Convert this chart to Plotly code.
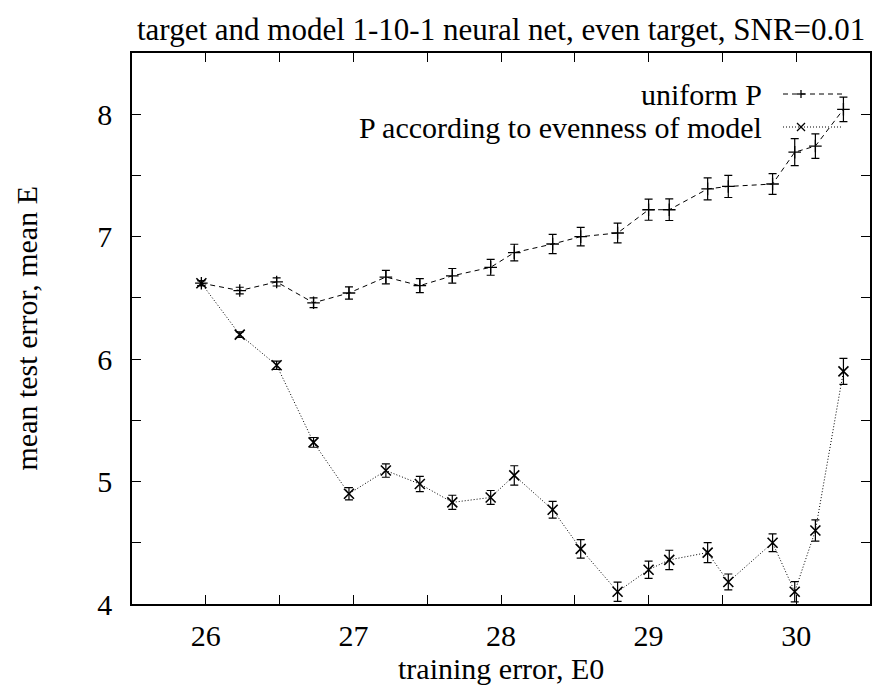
import plotly.graph_objects as go

# ---- data ----
x_vals = [25.97, 26.23, 26.48, 26.73, 26.97, 27.22, 27.45, 27.67, 27.93, 28.09,
          28.35, 28.54, 28.79, 29.00, 29.14, 29.40, 29.54, 29.84, 29.99, 30.13, 30.32]

uniform_y = [6.62, 6.56, 6.63, 6.46, 6.54, 6.67, 6.60, 6.68, 6.75, 6.87,
             6.94, 7.00, 7.03, 7.22, 7.22, 7.39, 7.41, 7.43, 7.69, 7.74, 8.04]
uniform_err = [0.02, 0.027, 0.033, 0.04, 0.05, 0.055, 0.057, 0.06, 0.065, 0.068,
               0.078, 0.076, 0.08, 0.086, 0.088, 0.09, 0.09, 0.085, 0.11, 0.10, 0.10]

even_y = [6.62, 6.20, 5.95, 5.32, 4.90, 5.09, 4.98, 4.83, 4.87, 5.05,
          4.77, 4.45, 4.10, 4.28, 4.36, 4.42, 4.18, 4.50, 4.10, 4.60, 5.90]
even_err = [0.02, 0.022, 0.034, 0.04, 0.05, 0.055, 0.063, 0.058, 0.057, 0.079,
            0.068, 0.076, 0.079, 0.07, 0.079, 0.082, 0.065, 0.072, 0.082, 0.087, 0.106]

x_tickvals = [25.5, 26, 26.5, 27, 27.5, 28, 28.5, 29, 29.5, 30, 30.5]
x_ticktext = ["", "26", "", "27", "", "28", "", "29", "", "30", ""]
y_tickvals = [4, 4.5, 5, 5.5, 6, 6.5, 7, 7.5, 8, 8.5]
y_ticktext = ["4", "", "5", "", "6", "", "7", "", "8", ""]

series_names = ["uniform P", "P according to evenness of model"]
title_text = "target and model 1-10-1 neural net, even target, SNR=0.01"
x_title = "training error, E0"
y_title = "mean test error, mean E"

FONT = "Liberation Serif"
FS = 30

fig = go.Figure()
fig.add_trace(go.Scatter(
    x=x_vals, y=uniform_y, mode="lines+markers", name=series_names[0],
    line=dict(color="black", width=1, dash="5px,4px"),
    marker=dict(symbol="cross-thin-open", size=9, color="black",
                line=dict(color="black", width=1.3)),
    error_y=dict(type="data", array=uniform_err, visible=True,
                 color="black", thickness=1.2, width=4),
    showlegend=False))
fig.add_trace(go.Scatter(
    x=x_vals, y=even_y, mode="lines+markers", name=series_names[1],
    line=dict(color="black", width=1, dash="1px,2px"),
    marker=dict(symbol="x-thin-open", size=10, color="black",
                line=dict(color="black", width=1.6)),
    error_y=dict(type="data", array=even_err, visible=True,
                 color="black", thickness=1.2, width=4),
    showlegend=False))

L, R, T, B = 132, 17, 53, 85
W, H = 887, 689
pw, ph = W - L - R, H - T - B

def px(xp):
    return (xp - L) / pw

def py(yp):
    return (H - B - yp) / ph

annotations = [
    dict(text=title_text, x=0.5, y=1, xref="paper", yref="paper",
         xanchor="center", yanchor="bottom", yshift=4, showarrow=False,
         font=dict(family=FONT, size=31, color="black")),
    dict(text=x_title, x=0.5, y=0, xref="paper", yref="paper",
         xanchor="center", yanchor="middle", yshift=-64, showarrow=False,
         font=dict(family=FONT, size=FS, color="black")),
    dict(text=y_title, x=0, y=0.5, xref="paper", yref="paper", textangle=-90,
         xanchor="center", yanchor="middle", xshift=-106, showarrow=False,
         font=dict(family=FONT, size=FS, color="black")),
]
shapes = []
leg_rows = [(94, "5px,4px", "plus"), (127, "1px,2px", "x")]
for (ypix, dash, sym), name in zip(leg_rows, series_names):
    annotations.append(dict(text=name, x=px(764), y=py(ypix), xref="paper", yref="paper",
                            xanchor="right", yanchor="middle", showarrow=False,
                            font=dict(family=FONT, size=FS, color="black")))
    shapes.append(dict(type="line", xref="paper", yref="paper",
                       x0=px(783), x1=px(843), y0=py(ypix), y1=py(ypix),
                       line=dict(color="black", width=1, dash=dash)))
    cx, cy = px(801), py(ypix)
    if sym == "plus":
        segs = [(-4, 0, 4, 0), (0, -4, 0, 4)]
    else:
        segs = [(-4, -4, 4, 4), (-4, 4, 4, -4)]
    for a, b, c, d in segs:
        shapes.append(dict(type="line", xref="paper", yref="paper",
                           xsizemode="pixel", ysizemode="pixel",
                           xanchor=cx, yanchor=cy, x0=a, y0=b, x1=c, y1=d,
                           line=dict(color="black", width=1.3)))

axis_common = dict(showgrid=False, zeroline=False, showline=True, linecolor="black",
                   linewidth=1.5, mirror="ticks", ticks="inside", ticklen=9,
                   tickwidth=1.2, tickcolor="black",
                   tickfont=dict(family=FONT, size=FS, color="black"))

fig.update_layout(
    width=W, height=H, margin=dict(l=L, r=R, t=T, b=B),
    paper_bgcolor="white", plot_bgcolor="white",
    xaxis=dict(range=[25.5, 30.5], tickmode="array", tickvals=x_tickvals,
               ticktext=x_ticktext, ticklabelstandoff=4, **axis_common),
    yaxis=dict(range=[4, 8.5], tickmode="array", tickvals=y_tickvals,
               ticktext=y_ticktext, ticklabelstandoff=12, **axis_common),
    annotations=annotations, shapes=shapes,
)

fig.write_html("out.html", config={"displayModeBar": False},
               post_script="document.body.style.margin='0';document.body.style.overflow='hidden';")
